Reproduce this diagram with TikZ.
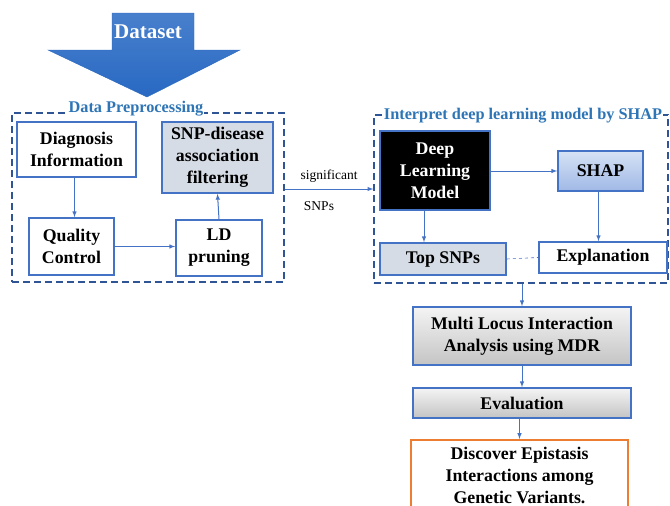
\documentclass[tikz,border=0pt]{standalone}
\usepackage{fontspec}
\setmainfont{Liberation Serif}
\usetikzlibrary{calc,arrows}
\definecolor{BoxBlue}{RGB}{68,114,196}
\definecolor{FrameBlue}{RGB}{47,85,151}
\definecolor{TitleBlue}{RGB}{46,117,182}
\definecolor{DataBlue}{RGB}{40,105,195}
\definecolor{SnpFill}{RGB}{214,220,229}
\definecolor{ShapTop}{RGB}{214,226,245}
\definecolor{ShapBottom}{RGB}{160,185,230}
\definecolor{GreyTop}{RGB}{244,244,244}
\definecolor{GreyBottom}{RGB}{196,196,196}
\definecolor{OrangeLine}{RGB}{237,125,49}

\begin{document}
\begin{tikzpicture}[x=1pt,y=-1pt,every text node part/.style={align=center},
  box/.style={draw=BoxBlue, line width=1.7pt, inner sep=0pt, font=\bfseries\fontsize{17.8}{22}\selectfont},
  frame/.style={draw=FrameBlue, line width=1.4pt, dash pattern=on 7pt off 4pt, inner sep=0pt},
  title/.style={fill=white, text=TitleBlue, inner sep=1pt, font=\bfseries\fontsize{16.3}{19}\selectfont},
  flow/.style={-latex, draw=BoxBlue, line width=1pt}]

  \clip (0,0) rectangle (670,506);

  % Dataset arrow
  \draw[top color=DataBlue!85!white, bottom color=DataBlue, draw=DataBlue] (112,13) -- (194,13) -- (194,50) -- (240,50) -- (147,97) -- (48,50) -- (112,50) -- cycle;
  \node[text=white, font=\bfseries\fontsize{21}{24}\selectfont] (dataset) at (148,32) {Dataset};

  % Data preprocessing
  \node[frame, minimum width=272, minimum height=169] (prep) at (148,197.5) {};
  \node[title] (preptitle) at (136,109) {Data Preprocessing};
  \node[box, minimum width=119, minimum height=55] (diag) at (76.5,149.5) {Diagnosis \\ Information};
  \node[box, fill=SnpFill, minimum width=111, minimum height=71] (snp) at (217.5,157.5) {SNP-disease \\ association \\ filtering};
  \node[box, minimum width=85, minimum height=57] (qc) at (71.5,246.5) {Quality \\ Control};
  \node[box, minimum width=86, minimum height=56] (ld) at (219,248) {LD \\ pruning};

  \draw[flow] ([xshift=-2pt]diag.south) -- ([xshift=-2pt]diag.south |- qc.north);
  \draw[flow] (qc.east) -- (qc.east -| ld.west);
  \draw[flow] (ld.north) -- (snp.south);

  % Interpret by SHAP
  \node[frame, minimum width=294, minimum height=168] (interp) at (521,199) {};
  \node[title] (interptitle) at (523,116) {Interpret deep learning model by SHAP};
  \node[box, fill=black, text=white, minimum width=110, minimum height=79] (dlm) at (435,170.5) {Deep \\ Learning \\ Model};
  \node[box, top color=ShapTop, bottom color=ShapBottom, minimum width=85, minimum height=40] (shap) at (600.5,171) {SHAP};
  \node[box, fill=SnpFill, minimum width=126, minimum height=32] (top) at (443,259) {Top SNPs};
  \node[box, fill=white, minimum width=128, minimum height=31] (expl) at (603,257.5) {Explanation};

  \draw[flow] (dlm.east |- shap.west) -- (shap.west);
  \draw[flow] ([xshift=-11pt]dlm.south) -- ([xshift=-11pt]dlm.south |- top.north);
  \draw[flow] ([xshift=-2pt]shap.south) -- ([xshift=-2pt]shap.south |- expl.north);
  \draw[draw=BoxBlue, line width=0.6pt, dashed] (top.east) -- (expl.west);

  % significant SNPs
  \coordinate (sig) at (0,189);
  \draw[flow] (prep.east |- sig) -- (interp.west |- sig)
    node[midway, above=3pt, font=\fontsize{13.5}{16}\selectfont] (siglabel) {significant}
    node[midway, below=9pt, xshift=-10pt, font=\fontsize{13.5}{16}\selectfont] (snplabel) {SNPs};

  % MDR and evaluation
  \node[box, top color=GreyTop, bottom color=GreyBottom, minimum width=218, minimum height=58] (mdr) at (522,336) {Multi Locus Interaction \\ Analysis using MDR};
  \node[box, top color=GreyTop, bottom color=GreyBottom, minimum width=218, minimum height=30] (eval) at (522,403) {Evaluation};
  \node[box, draw=OrangeLine, fill=white, minimum width=217, minimum height=71, anchor=north] (disc) at (519.5,439) {Discover Epistasis \\ Interactions among \\ Genetic Variants.};

  \draw[flow] (mdr.north |- interp.south) -- (mdr.north);
  \draw[flow] (mdr.south) -- (eval.north);
  \draw[flow] (eval.south -| disc.north) -- (disc.north);

\end{tikzpicture}
\end{document}
